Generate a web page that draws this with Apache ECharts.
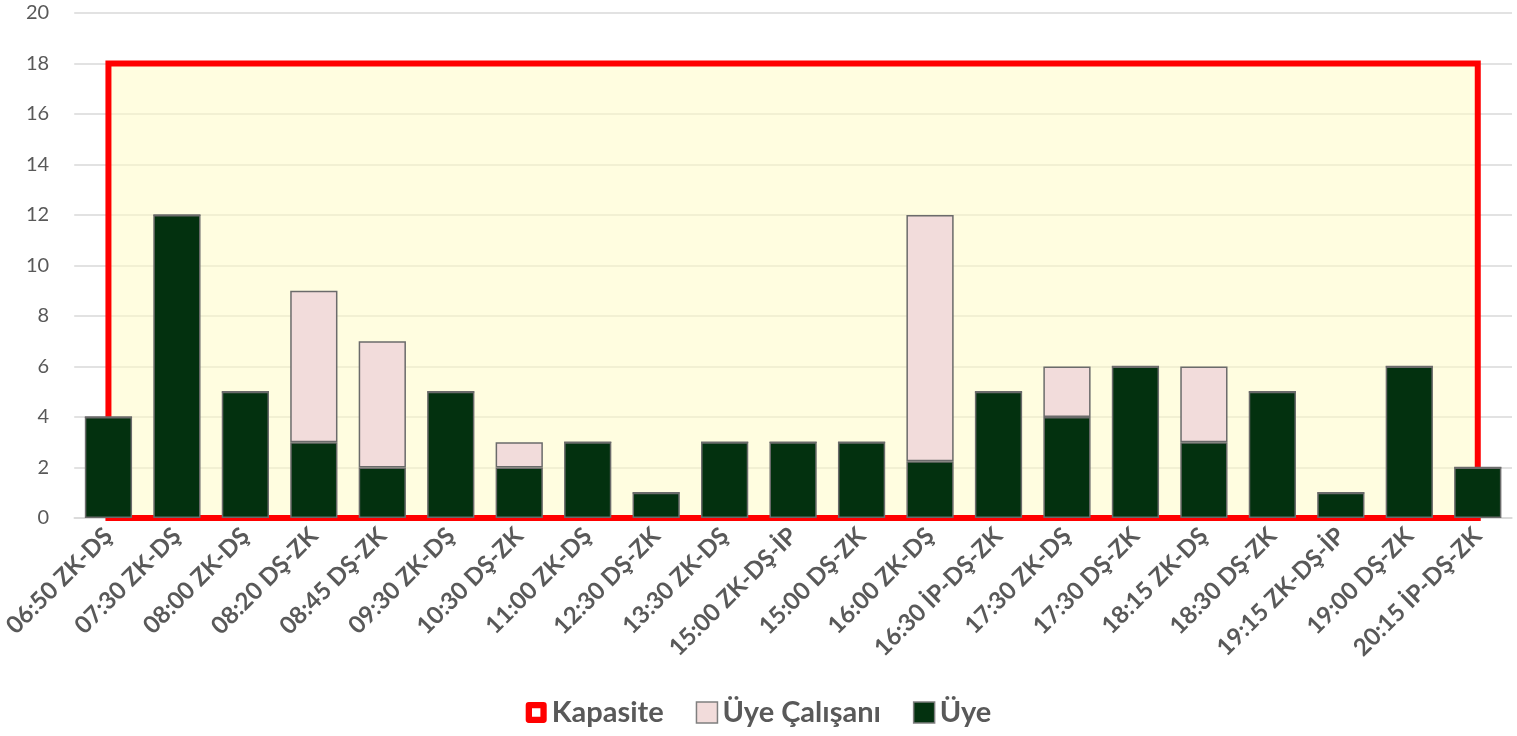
<!DOCTYPE html>
<html><head><meta charset="utf-8">
<script src="https://cdn.jsdelivr.net/npm/echarts@6/dist/echarts.min.js"></script>
<style>html,body{margin:0;padding:0;background:#fff}#c{width:1517px;height:736px}</style>
</head><body><div id="c"></div>
<script>
const categories = ['06:50 ZK-DŞ','07:30 ZK-DŞ','08:00 ZK-DŞ','08:20 DŞ-ZK','08:45 DŞ-ZK','09:30 ZK-DŞ','10:30 DŞ-ZK','11:00 ZK-DŞ','12:30 DŞ-ZK','13:30 ZK-DŞ','15:00 ZK-DŞ-İP','15:00 DŞ-ZK','16:00 ZK-DŞ','16:30 İP-DŞ-ZK','17:30 ZK-DŞ','17:30 DŞ-ZK','18:15 ZK-DŞ','18:30 DŞ-ZK','19:15 ZK-DŞ-İP','19:00 DŞ-ZK','20:15 İP-DŞ-ZK'];
const uye = [4,12,5,3,2,5,2,3,1,3,3,3,2.25,5,4,6,3,5,1,6,2];
const uyeCalisani = [0,0,0,6,5,0,1,0,0,0,0,0,9.75,0,2,0,3,0,0,0,0];
const kapasite = [18,18,18,18,18,18,18,18,18,18,18,18,18,18,18,18,18,18,18,18,18];
const yTicks = {min:0, max:20, interval:2};

const chart = echarts.init(document.getElementById('c'));
const font = 'Lato, "Open Sans", sans-serif';
const ringIcon = 'path://M3,0 H17 Q20,0 20,3 V17 Q20,20 17,20 H3 Q0,20 0,17 V3 Q0,0 3,0 Z M6,6 V14 H14 V6 Z';
chart.setOption({
  animation:false,
  grid:{left:72,right:5,top:13,bottom:218},
  legend:{
    bottom:4, left:'center', itemWidth:21, itemHeight:21, itemGap:32, padding:[5,5,5,5],
    textStyle:{fontFamily:font,fontWeight:'bold',fontSize:29,color:'#595959'},
    data:[
      {name:'Kapasite', icon:ringIcon, itemStyle:{color:'#FF0000',borderWidth:0}},
      {name:'Üye Çalışanı', icon:'rect', itemStyle:{color:'#F2DCDB',borderColor:'#7F7F7F',borderWidth:1.5}},
      {name:'Üye', icon:'rect', itemStyle:{color:'#03310F',borderColor:'#7F7F7F',borderWidth:1.5}}
    ]
  },
  xAxis:{
    type:'category', data:categories, boundaryGap:true,
    axisLine:{lineStyle:{color:'#D9D9D9',width:1.5}},
    axisTick:{show:false},
    axisLabel:{interval:0, rotate:45, margin:14, fontFamily:font, fontWeight:'bold', fontSize:24, color:'#595959'}
  },
  yAxis:{
    type:'value', min:yTicks.min, max:yTicks.max, interval:yTicks.interval,
    axisLine:{show:false}, axisTick:{show:false},
    axisLabel:{fontFamily:font, fontSize:20, color:'#595959', margin:25},
    splitLine:{lineStyle:{color:'#D9D9D9',width:1.5}}
  },
  series:[
    {
      name:'Kapasite', type:'custom', z:1,
      itemStyle:{color:'#FF0000'},
      data:kapasite.map((v,i)=>[i,v]),
      renderItem:function(params, api){
        if (params.dataIndex !== 0) return null;
        const pts = kapasite.map((v,i)=>api.coord([i,v]));
        const last = kapasite.length-1;
        pts.push(api.coord([last,0]));
        pts.push(api.coord([0,0]));
        return {type:'polygon', shape:{points:pts},
          style:{fill:'rgba(255,252,200,0.56)', stroke:'#FF0000', lineWidth:6, lineJoin:'miter'}};
      }
    },
    {
      name:'Üye', type:'bar', stack:'s', data:uye, barCategoryGap:'31%', z:3,
      itemStyle:{color:'#03310F', borderColor:'#6B6B6B', borderWidth:1.5}
    },
    {
      name:'Üye Çalışanı', type:'bar', stack:'s', data:uyeCalisani, z:3,
      itemStyle:{color:'#F2DCDB', borderColor:'#6B6B6B', borderWidth:1.5}
    }
  ]
});
</script></body></html>
